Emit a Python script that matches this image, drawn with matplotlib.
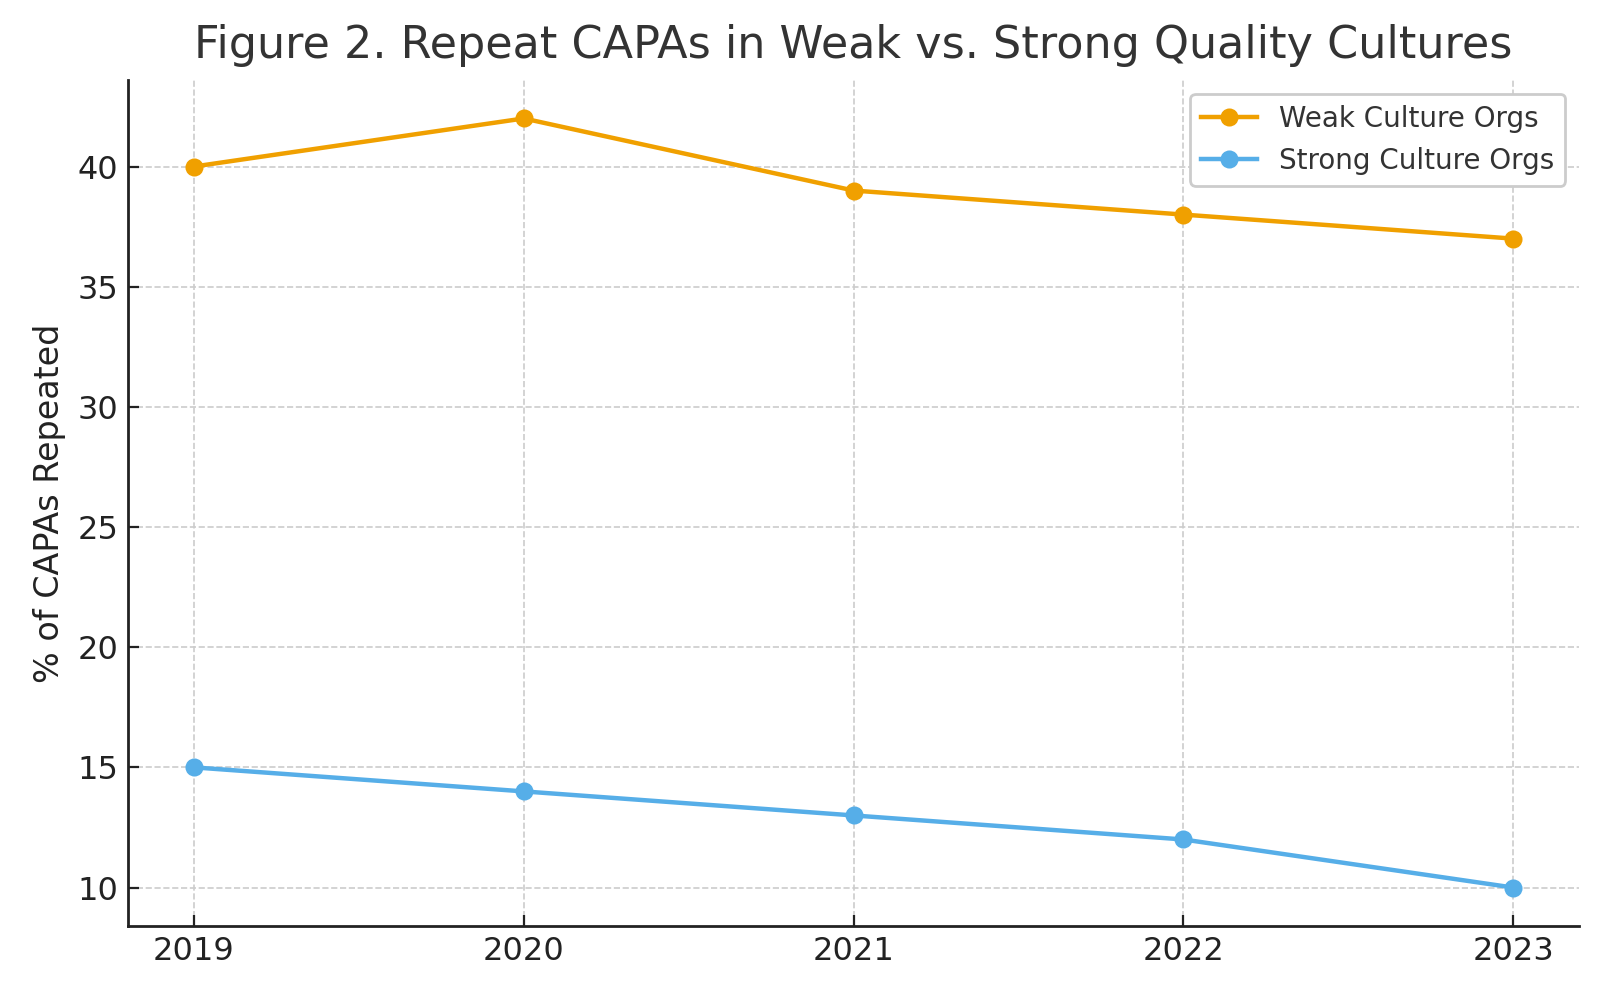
import matplotlib
matplotlib.use("Agg")
import matplotlib.pyplot as plt

# datos
years = [2019, 2020, 2021, 2022, 2023]
weak_culture = [40, 42, 39, 38, 37]
strong_culture = [15, 14, 13, 12, 10]

fig, ax = plt.subplots(figsize=(8, 5), dpi=200)
fig.subplots_adjust(left=0.08, right=0.987, top=0.92, bottom=0.074)

ax.plot(years, weak_culture, marker='o', color='#f0a000', linewidth=1.6,
        markersize=5.5, label='Weak Culture Orgs')
ax.plot(years, strong_culture, marker='o', color='#56aee8', linewidth=1.6,
        markersize=5.5, label='Strong Culture Orgs')

ax.set_xticks(years)
ax.set_title('Figure 2. Repeat CAPAs in Weak vs. Strong Quality Cultures',
             fontsize=16, color='#333333', pad=8)
ax.set_ylabel('% of CAPAs Repeated', fontsize=12, color='#222222')
ax.tick_params(axis='both', direction='in', labelsize=11.5, colors='#222222', length=4)
ax.grid(True, linestyle='--', color='#cccccc', linewidth=0.6)
ax.spines['top'].set_visible(False)
ax.spines['right'].set_visible(False)
for sp in ['left', 'bottom']:
    ax.spines[sp].set_linewidth(1.0)
    ax.spines[sp].set_color('#222222')

leg = ax.legend(loc='upper right', fontsize=10, framealpha=1, edgecolor='#cccccc')
for t in leg.get_texts():
    t.set_color('#333333')

fig.savefig('out.png')
